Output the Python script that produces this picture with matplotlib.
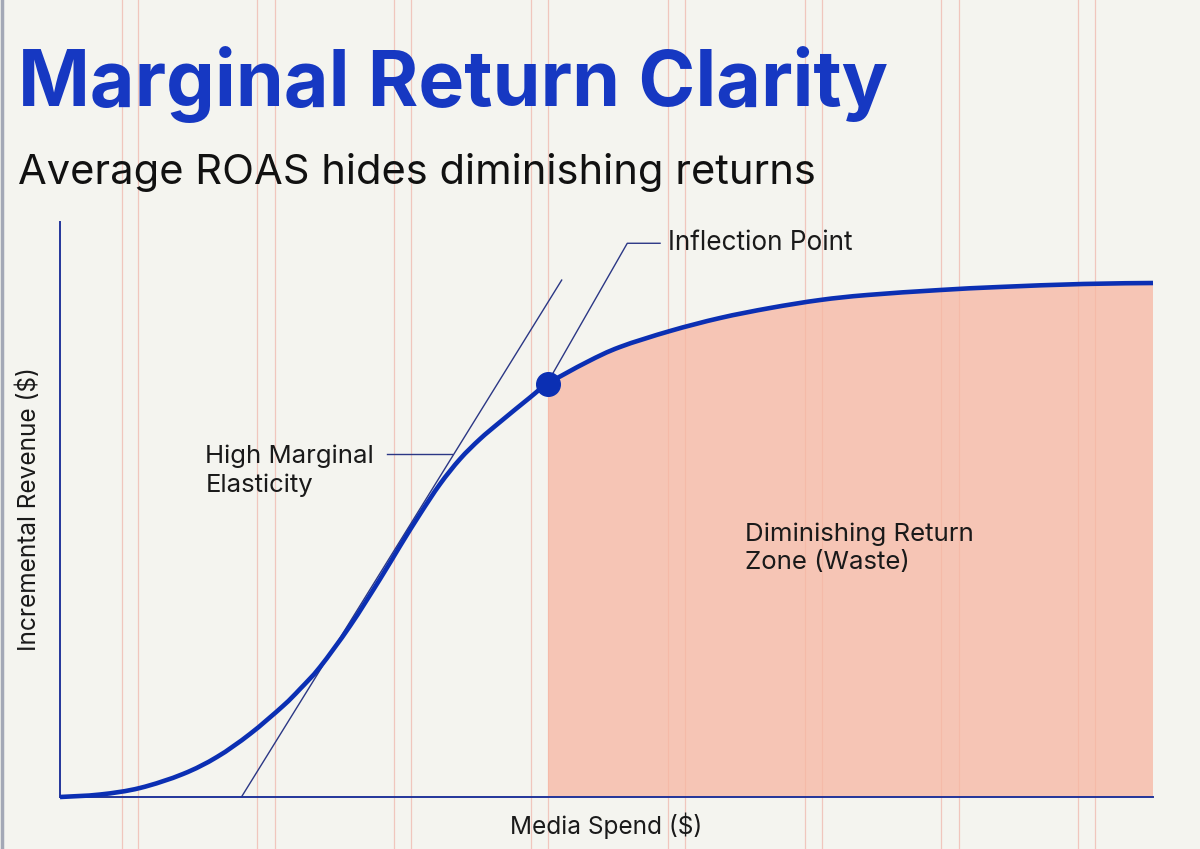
import matplotlib
matplotlib.use("Agg")
import matplotlib.pyplot as plt
from matplotlib.path import Path
from matplotlib.patches import PathPatch

# Response curve (spend 0-100, revenue 0-100)
spend = [0, 3.66, 7.32, 11.25, 14.36, 17.38, 20.40, 21.96, 23.79, 26.53, 29.28,
         31.11, 32.94, 34.77, 36.60, 38.43, 40.26, 43.00, 44.65, 48.22, 51.23,
         55.81, 60.38, 64.96, 69.53, 73.83, 80.51, 85.99, 93.60, 100]
revenue = [0, 0.43, 1.57, 4.0, 6.96, 10.96, 15.83, 18.78, 22.61, 29.74, 37.91,
           43.65, 49.22, 54.43, 58.78, 62.26, 65.22, 69.48, 71.91, 75.65, 78.26,
           81.04, 83.30, 85.04, 86.43, 87.30, 88.17, 88.70, 89.22, 89.39]

# Inflection point and the tangent through the steep part
inflection_x, inflection_y = 44.65, 71.91
tangent_x = [16.6, 45.9]
tangent_y = [0, 89.9]

title = "Marginal Return Clarity"
subtitle = "Average ROAS hides diminishing returns"

# Colours
bg = "#f4f4ef"
navy = "#0b2fb3"
axis_col = "#23359a"
thin_col = "#2b3785"
fill_col = "#f8b6a2"
guide_col = "#f0c6bd"
text_col = "#1a1a1a"

plt.rcParams["font.family"] = ["Inter", "DejaVu Sans"]


def smooth_path(xs, ys):
    # Catmull-Rom through the read points, drawn as cubic Bezier segments
    pts = list(zip(xs, ys))
    verts = [pts[0]]
    codes = [Path.MOVETO]
    n = len(pts)
    for i in range(n - 1):
        p0 = pts[max(i - 1, 0)]
        p1 = pts[i]
        p2 = pts[i + 1]
        p3 = pts[min(i + 2, n - 1)]
        c1 = (p1[0] + (p2[0] - p0[0]) / 6, p1[1] + (p2[1] - p0[1]) / 6)
        c2 = (p2[0] - (p3[0] - p1[0]) / 6, p2[1] - (p3[1] - p1[1]) / 6)
        verts += [c1, c2, p2]
        codes += [Path.CURVE4] * 3
    return verts, codes


W, H = 1200, 849
fig = plt.figure(figsize=(W / 100, H / 100), dpi=100, facecolor=bg)

# Background layer with the faint vertical guide pairs
bgax = fig.add_axes([0, 0, 1, 1], zorder=-1)
bgax.set_xlim(0, W)
bgax.set_ylim(H, 0)
bgax.axis("off")
for gx in [122, 138, 257, 275, 394, 411, 531, 548, 668, 685, 805, 822, 941, 959, 1078, 1095]:
    bgax.axvline(gx, color=guide_col, lw=0.9)
bgax.axvline(1.5, color="#a3a8b6", lw=2.5)

# Main axes
left, right, bottom, top = 60, 1153, 797, 222
ax = fig.add_axes([left / W, 1 - bottom / H, (right - left) / W, (bottom - top) / H])
ax.set_facecolor("none")
ax.set_xlim(0, 100)
ax.set_ylim(0, 100)
for s in ["top", "right"]:
    ax.spines[s].set_visible(False)
for s in ["left", "bottom"]:
    ax.spines[s].set_color(axis_col)
    ax.spines[s].set_linewidth(1.4)
ax.set_xticks([])
ax.set_yticks([])

# Diminishing return zone (area under the curve right of the inflection point)
k = spend.index(inflection_x)
zv, zc = smooth_path(spend[k:], revenue[k:])
zv = zv + [(spend[-1], 0), (spend[k], 0), zv[0]]
zc = zc + [Path.LINETO, Path.LINETO, Path.CLOSEPOLY]
ax.add_patch(PathPatch(Path(zv, zc), facecolor=fill_col, alpha=0.75, lw=0, zorder=1))

# Tangent and curve
ax.plot(tangent_x, tangent_y, color=thin_col, lw=1.0, zorder=2, clip_on=False)
cv, cc = smooth_path(spend, revenue)
ax.add_patch(PathPatch(Path(cv, cc), facecolor="none", edgecolor=navy, lw=3.3,
                       zorder=3, clip_on=False, capstyle="butt"))
ax.plot([inflection_x], [inflection_y], "o", ms=17, color=navy, zorder=4, clip_on=False)

# Annotations
ax.plot([45.1, 51.9, 54.9], [73.7, 96.3, 96.3], color=thin_col, lw=1.0, clip_on=False)
ax.text(55.6, 96.3, "Inflection Point", fontsize=18.8, color=text_col, va="center", ha="left")

ax.plot([29.9, 35.9], [59.7, 59.7], color=thin_col, lw=1.0)
ax.text(13.3, 56.7, "High Marginal\nElasticity", fontsize=18.5, color=text_col,
        va="center", ha="left", linespacing=1.3)

ax.text(62.7, 43.3, "Diminishing Return\nZone (Waste)", fontsize=18.6, color=text_col,
        va="center", ha="left", linespacing=1.3)

ax.set_xlabel("Media Spend ($)", fontsize=17.6, color=text_col, labelpad=11)
ax.set_ylabel("Incremental Revenue ($)", fontsize=17.6, color=text_col, labelpad=14)

# Title and subtitle, title sized to the width it takes in the picture
t = fig.text(18 / W, 1 - 106 / H, title, fontsize=60, fontweight="bold", color="#1638c2",
             ha="left", va="baseline")
renderer = fig.canvas.get_renderer()
tw = t.get_window_extent(renderer).width
t.set_fontsize(60 * 870 / tw)
fig.text(18 / W, 1 - 184 / H, subtitle, fontsize=30, color="#111111",
         ha="left", va="baseline")

fig.savefig("out.png", dpi=100, facecolor=bg)
